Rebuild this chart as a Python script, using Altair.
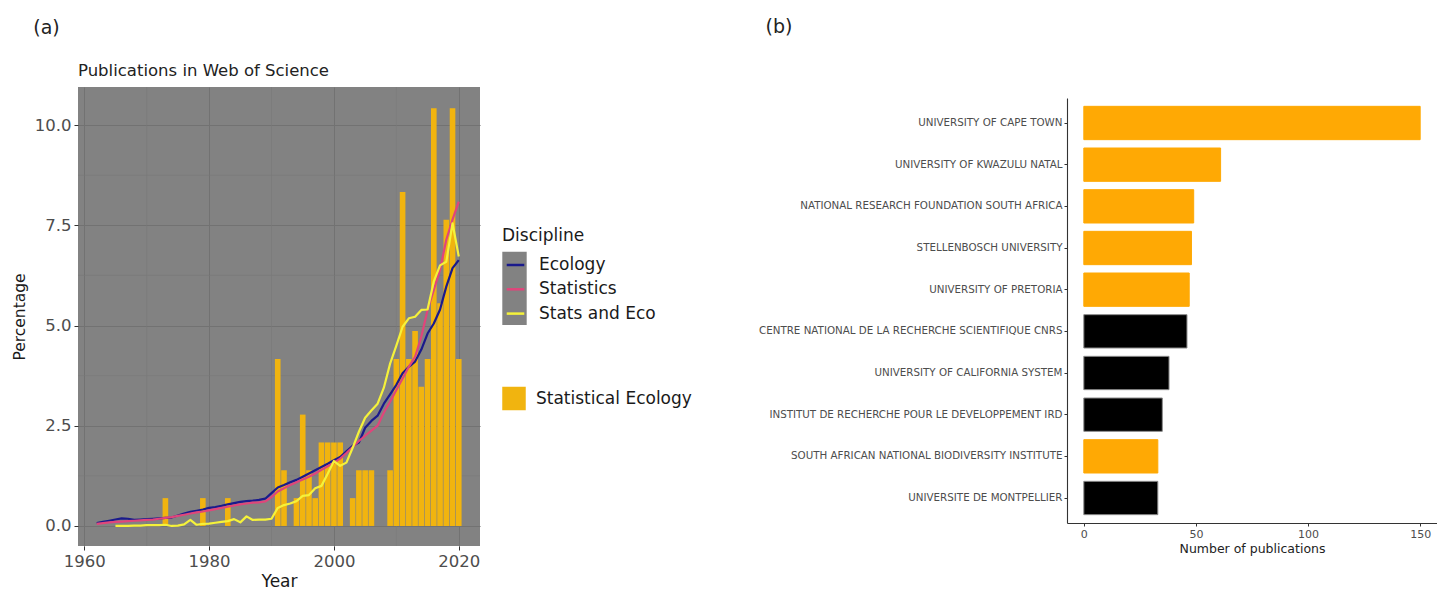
import altair as alt
import pandas as pd

# ---------------- Panel (a) data ----------------
line_years = list(range(1962, 2021))
ecology = [0.07, 0.10, 0.13, 0.16, 0.19, 0.18, 0.15, 0.16, 0.17, 0.18,
           0.19, 0.20, 0.21, 0.26, 0.31, 0.35, 0.38, 0.41, 0.45, 0.47,
           0.50, 0.54, 0.57, 0.60, 0.62, 0.63, 0.65, 0.68, 0.82, 0.96,
           1.02, 1.09, 1.15, 1.23, 1.31, 1.39, 1.47, 1.55, 1.64, 1.72,
           1.86, 2.00, 2.08, 2.45, 2.62, 2.75, 3.05, 3.28, 3.52, 3.81,
           3.97, 4.10, 4.40, 4.80, 5.05, 5.40, 5.97, 6.43, 6.63]
statistics = [0.05, 0.07, 0.09, 0.10, 0.11, 0.12, 0.13, 0.14, 0.15, 0.16,
              0.18, 0.20, 0.22, 0.25, 0.28, 0.31, 0.34, 0.36, 0.39, 0.42,
              0.45, 0.48, 0.51, 0.54, 0.56, 0.58, 0.59, 0.61, 0.72, 0.86,
              0.94, 1.02, 1.09, 1.16, 1.23, 1.31, 1.40, 1.49, 1.58, 1.68,
              1.82, 1.97, 2.12, 2.25, 2.38, 2.50, 2.83, 3.10, 3.39, 3.68,
              3.97, 4.22, 4.72, 5.39, 5.89, 6.39, 7.14, 7.64, 8.09]
se_years = list(range(1965, 2021))
stats_eco = [0.00, 0.00, 0.00, 0.01, 0.01, 0.02, 0.02, 0.02, 0.03, 0.00,
             0.01, 0.04, 0.15, 0.03, 0.05, 0.06, 0.08, 0.10, 0.12, 0.17,
             0.09, 0.24, 0.15, 0.16, 0.16, 0.18, 0.45, 0.52, 0.56, 0.62,
             0.75, 0.77, 0.94, 1.00, 1.30, 1.62, 1.50, 1.58, 1.95, 2.35,
             2.70, 2.88, 3.05, 3.45, 4.05, 4.50, 4.97, 5.18, 5.22, 5.39,
             5.40, 6.10, 6.50, 6.59, 7.55, 6.72]

bar_years = [1973, 1979, 1983, 1991, 1992, 1994, 1995, 1996, 1997, 1998,
             1999, 2000, 2001, 2003, 2004, 2005, 2006, 2009, 2010, 2011,
             2012, 2013, 2014, 2015, 2016, 2017, 2018, 2019, 2020]
bar_values = [0.694, 0.694, 0.694, 4.167, 1.389, 0.694, 2.778, 1.389, 0.694, 2.083,
              2.083, 2.083, 2.083, 0.694, 1.389, 1.389, 1.389, 1.389, 4.167, 8.333,
              4.167, 4.861, 3.472, 4.167, 10.417, 5.556, 7.639, 10.417, 4.167]

disciplines = ["Ecology", "Statistics", "Stats and Eco"]
line_colors = ["#1a1a8c", "#e0457b", "#f5f23a"]
x_ticks_a = [1960, 1980, 2000, 2020]
y_ticks_a = [0, 2.5, 5, 7.5, 10]
minor_x = [1970, 1990, 2010]
minor_y = [1.25, 3.75, 6.25, 8.75]

# ---------------- Panel (b) data ----------------
institutions = ["UNIVERSITY OF CAPE TOWN", "UNIVERSITY OF KWAZULU NATAL",
                "NATIONAL RESEARCH FOUNDATION SOUTH AFRICA", "STELLENBOSCH UNIVERSITY",
                "UNIVERSITY OF PRETORIA", "CENTRE NATIONAL DE LA RECHERCHE SCIENTIFIQUE CNRS",
                "UNIVERSITY OF CALIFORNIA SYSTEM", "INSTITUT DE RECHERCHE POUR LE DEVELOPPEMENT IRD",
                "SOUTH AFRICAN NATIONAL BIODIVERSITY INSTITUTE", "UNIVERSITE DE MONTPELLIER"]
publications = [150, 61, 49, 48, 47, 46, 38, 35, 33, 33]
region = ["SA", "SA", "SA", "SA", "SA", "Other", "Other", "Other", "SA", "Other"]
x_ticks_b = [0, 50, 100, 150]

FONT = "DejaVu Sans"
BG = "#828282"
ORANGE = "#FFA904"
GOLD = "#F1B40F"

df_lines = pd.concat([
    pd.DataFrame({"year": line_years, "value": ecology, "Discipline": "Ecology"}),
    pd.DataFrame({"year": line_years, "value": statistics, "Discipline": "Statistics"}),
    pd.DataFrame({"year": se_years, "value": stats_eco, "Discipline": "Stats and Eco"}),
], ignore_index=True)
df_bars = pd.DataFrame({"year": bar_years, "value": bar_values, "Type": "Statistical Ecology"})
df_minx = pd.DataFrame({"v": minor_x})
df_miny = pd.DataFrame({"v": minor_y})
df_b = pd.DataFrame({"inst": institutions, "n": publications, "region": region})

xA = alt.Scale(domain=[1959.0, 2023.4], nice=False, zero=False)
yA = alt.Scale(domain=[-0.5, 10.95], nice=False, zero=False)

x_axis_a = alt.Axis(values=x_ticks_a, format="d", title="Year", grid=True, gridColor="#727272",
                    gridWidth=1, domain=False, tickSize=4, tickColor="#333333", labelFontSize=16.5,
                    labelColor="#4d4d4d", labelPadding=3, labelFlush=False, labelOverlap=False,
                    titleFontSize=17, titleColor="#1a1a1a", titleFontWeight="normal",
                    titlePadding=4, labelFont=FONT, titleFont=FONT)
y_axis_a = alt.Axis(values=y_ticks_a, format=".1f", title="Percentage", grid=True, gridColor="#727272",
                    gridWidth=1, domain=False, tickSize=4, tickColor="#333333", labelFontSize=16.5,
                    labelColor="#4d4d4d", labelPadding=3, labelOverlap=False, titleFontSize=15.5,
                    titleColor="#1a1a1a", titleFontWeight="normal", titlePadding=7,
                    labelFont=FONT, titleFont=FONT)

legend_common = dict(orient="none", legendX=424, padding=0, labelFont=FONT, titleFont=FONT,
                     labelFontSize=17, labelColor="#1a1a1a", titleFontSize=17,
                     titleFontWeight="normal", titleColor="#1a1a1a", titlePadding=7,
                     labelOffset=10)

X_YEAR = alt.X("year:Q", scale=xA, axis=x_axis_a)
Y_VAL = alt.Y("value:Q", scale=yA, axis=y_axis_a)

rules_x = alt.Chart(df_minx).mark_rule(color="#797979", strokeWidth=0.6).encode(
    x=alt.X("v:Q", scale=xA, axis=x_axis_a))
rules_y = alt.Chart(df_miny).mark_rule(color="#797979", strokeWidth=0.6).encode(
    y=alt.Y("v:Q", scale=yA, axis=y_axis_a))

bars = alt.Chart(df_bars).transform_calculate(
    x0="datum.year - 0.45", x1="datum.year + 0.45", base="0"
).mark_bar().encode(
    x=alt.X("x0:Q", scale=xA, axis=x_axis_a),
    x2="x1:Q",
    y=Y_VAL,
    y2="base:Q",
    fill=alt.Fill("Type:N", scale=alt.Scale(domain=["Statistical Ecology"], range=[GOLD]),
                  legend=alt.Legend(title=None, legendY=299.5, symbolType="square",
                                    symbolStrokeWidth=0, symbolSize=552, rowPadding=0,
                                    **legend_common)),
)

lines = alt.Chart(df_lines).mark_line(strokeWidth=2.2, strokeJoin="round").encode(
    x=X_YEAR,
    y=Y_VAL,
    color=alt.Color("Discipline:N", scale=alt.Scale(domain=disciplines, range=line_colors),
                    legend=alt.Legend(title="Discipline", legendY=140.5, symbolType="M-0.72,0H0.72",
                                      symbolStrokeWidth=2.5, symbolSize=595, rowPadding=2.3,
                                      zindex=2, **legend_common)),
    order="year:Q",
)

# one tall grey key box behind the three line keys (drawn as a legend symbol)
keys_bg = alt.Chart(df_lines).transform_filter("false").mark_point(
    filled=True, color=BG, opacity=1).encode(
    x=X_YEAR,
    y=Y_VAL,
    shape=alt.Shape("Discipline:N", scale=alt.Scale(domain=["k"], range=["M-1,-1H1V5H-1Z"]),
                    legend=alt.Legend(title="Discipline", legendY=140.5,
                                      symbolFillColor=BG, symbolStrokeWidth=0, labelExpr="''",
                                      symbolSize=595, rowPadding=0, zindex=1,
                                      **{**legend_common, "titleColor": "transparent"})),
)

panel_a = alt.layer(rules_x, rules_y, bars, lines, keys_bg).properties(
    width=402, height=459,
    view=alt.ViewBackground(fill=BG, strokeWidth=0),
    title=alt.TitleParams("Publications in Web of Science", anchor="start", frame="group",
                          fontSize=16.5, fontWeight="normal", color="#222222", offset=7.5,
                          font=FONT),
)

panel_b = alt.Chart(df_b).mark_bar(strokeWidth=1).encode(
    x=alt.X("n:Q", scale=alt.Scale(domain=[-7.5, 157.5], nice=False, zero=False),
            axis=alt.Axis(values=x_ticks_b, title="Number of publications", grid=False,
                          domain=True, domainColor="#333333", domainWidth=1.1, tickSize=3,
                          tickColor="#333333", labelFontSize=11, labelColor="#4d4d4d",
                          labelPadding=2, labelFlush=False, titleFontSize=12.5,
                          titleFontWeight="normal", titleColor="#222222", titlePadding=3,
                          labelFont=FONT, titleFont=FONT)),
    y=alt.Y("inst:N", sort=institutions,
            scale=alt.Scale(paddingInner=0.2, paddingOuter=0.2),
            axis=alt.Axis(title=None, grid=False, domain=True, domainColor="#333333",
                          domainWidth=1.1, tickSize=3, tickColor="#333333", labelFontSize=10.3,
                          labelColor="#4d4d4d", labelPadding=2, labelLimit=500, labelFont=FONT)),
    fill=alt.condition("datum.region == 'SA'", alt.value(ORANGE), alt.value("#000000")),
    stroke=alt.condition("datum.region == 'SA'", alt.value(ORANGE), alt.value("#8a8a8a")),
).properties(width=370, height=425)

spacer = alt.Chart(pd.DataFrame({"s": [0]})).mark_point(opacity=0).properties(width=370, height=11)

a_wrap = alt.hconcat(panel_a, title=alt.TitleParams("(a)", anchor="start", frame="bounds", dx=21,
                                                     fontSize=19, fontWeight="normal",
                                                     color="#222222", offset=25, font=FONT))
b_wrap = alt.vconcat(spacer, panel_b, spacing=0,
                     title=alt.TitleParams("(b)", anchor="start", frame="bounds", dx=7,
                                           fontSize=19, fontWeight="normal",
                                           color="#222222", offset=50, font=FONT))

chart = alt.hconcat(a_wrap, b_wrap, spacing=277,
                    padding={"left": 12, "top": 18, "right": 0, "bottom": 0}
                    ).configure(font=FONT).configure_view(strokeWidth=0)

chart.save("out.html", embed_options={"renderer": "svg", "actions": False})
